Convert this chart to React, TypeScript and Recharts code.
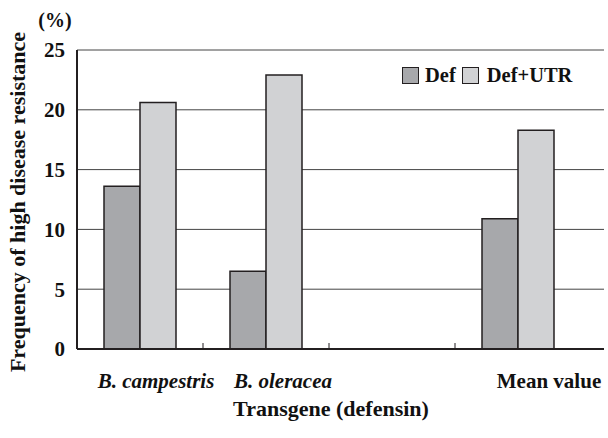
import React from 'react';
import { BarChart, Bar, XAxis, YAxis, CartesianGrid, Legend, Label } from 'recharts';

const categories = ['B. campestris', 'B. oleracea', '', 'Mean value'];
const defValues = [13.6, 6.5, null, 10.9];
const defUtrValues = [20.6, 22.9, null, 18.3];
const yTicks = [0, 5, 10, 15, 20, 25];
const seriesNames = ['Def', 'Def+UTR'];

const data = categories.map((c, i) => ({ name: c, def: defValues[i], defUtr: defUtrValues[i] }));

const FONT = '"Liberation Serif", "Times New Roman", serif';
const DARK = '#a7a8ab';
const LIGHT = '#d1d2d4';
const INK = '#231f20';
const W = 608;
const H = 438;
const PLOT_LEFT = 77;
const PLOT_RIGHT = 604;
const PAD_RIGHT = 23;
const HALF_BAND = (PLOT_RIGHT - PLOT_LEFT - PAD_RIGHT) / categories.length / 2;
const labelDx = [16, 17, 0, 31];

const CategoryTick = (props: any) => {
  const { x, y, payload, index } = props;
  const v: string = payload.value;
  return (
    <g>
      {index > 0 && (
        <line x1={x - HALF_BAND} x2={x - HALF_BAND} y1={y} y2={y - 6} stroke={INK} strokeWidth={1} />
      )}
      <text
        x={x + (labelDx[index] || 0)}
        y={y + 39}
        textAnchor="middle"
        fontFamily={FONT}
        fontWeight="bold"
        fontStyle={v.startsWith('B.') ? 'italic' : 'normal'}
        fontSize={21}
        fill="#111"
      >
        {v}
      </text>
    </g>
  );
};

const renderLegend = () => (
  <div style={{ display: 'flex', alignItems: 'center', fontFamily: FONT, fontWeight: 'bold', fontSize: 20.5, color: '#111' }}>
    <span style={{ width: 15, height: 15, background: DARK, border: `1.5px solid ${INK}`, display: 'inline-block' }} />
    <span style={{ marginLeft: 6, marginRight: 6 }}>{seriesNames[0]}</span>
    <span style={{ width: 15, height: 15, background: LIGHT, border: `1.5px solid ${INK}`, display: 'inline-block' }} />
    <span style={{ marginLeft: 8 }}>{seriesNames[1]}</span>
  </div>
);

export default function App() {
  return (
    <div style={{ position: 'absolute', left: 0, top: 0, width: W, height: H, background: '#fff' }}>
      <BarChart
        width={W}
        height={H}
        data={data}
        margin={{ top: 50, right: W - PLOT_RIGHT, bottom: 29, left: 0 }}
        barGap={0}
        barSize={36}
      >
        <CartesianGrid horizontal vertical={false} stroke="#444" strokeWidth={1} />
        <XAxis
          dataKey="name"
          height={60}
          interval={0}
          tickSize={0}
          tickMargin={0}
          padding={{ left: 0, right: PAD_RIGHT }}
          axisLine={{ stroke: INK, strokeWidth: 2 }}
          tickLine={false}
          tick={<CategoryTick />}
        >
          <Label
            content={() => (
              <text x={331} y={416} textAnchor="middle" fontFamily={FONT} fontWeight="bold" fontSize={22} fill="#111">
                Transgene (defensin)
              </text>
            )}
          />
        </XAxis>
        <XAxis
          xAxisId="top"
          dataKey="name"
          orientation="top"
          height={0}
          tick={false}
          tickLine={false}
          padding={{ left: 0, right: PAD_RIGHT }}
          axisLine={{ stroke: INK, strokeWidth: 1.2 }}
        />
        <YAxis
          width={PLOT_LEFT}
          domain={[0, 25]}
          ticks={yTicks}
          interval={0}
          tickSize={0}
          tickMargin={12}
          axisLine={{ stroke: INK, strokeWidth: 2 }}
          tickLine={false}
          tick={{ fontFamily: FONT, fontWeight: 'bold', fontSize: 21, fill: '#111' }}
        >
          <Label
            content={() => (
              <g>
                <text
                  x={0}
                  y={0}
                  transform="translate(25, 202) rotate(-90)"
                  textAnchor="middle"
                  fontFamily={FONT}
                  fontWeight="bold"
                  fontSize={22}
                  fill="#111"
                >
                  Frequency of high disease resistance
                </text>
                <text x={55} y={27} textAnchor="middle" fontFamily={FONT} fontWeight="bold" fontSize={20} fill="#111">
                  (%)
                </text>
              </g>
            )}
          />
        </YAxis>
        <YAxis
          yAxisId="right"
          orientation="right"
          width={0}
          domain={[0, 25]}
          tick={false}
          tickLine={false}
          axisLine={{ stroke: INK, strokeWidth: 1.2 }}
        />
        <Legend
          layout="vertical"
          align="center"
          verticalAlign="middle"
          content={renderLegend}
          wrapperStyle={{ position: 'absolute', left: 402, top: 64, width: 200, height: 26 }}
        />
        <Bar dataKey="def" name={seriesNames[0]} fill={DARK} stroke={INK} strokeWidth={1.5} isAnimationActive={false} />
        <Bar dataKey="defUtr" name={seriesNames[1]} fill={LIGHT} stroke={INK} strokeWidth={1.5} isAnimationActive={false} />
      </BarChart>
    </div>
  );
}
